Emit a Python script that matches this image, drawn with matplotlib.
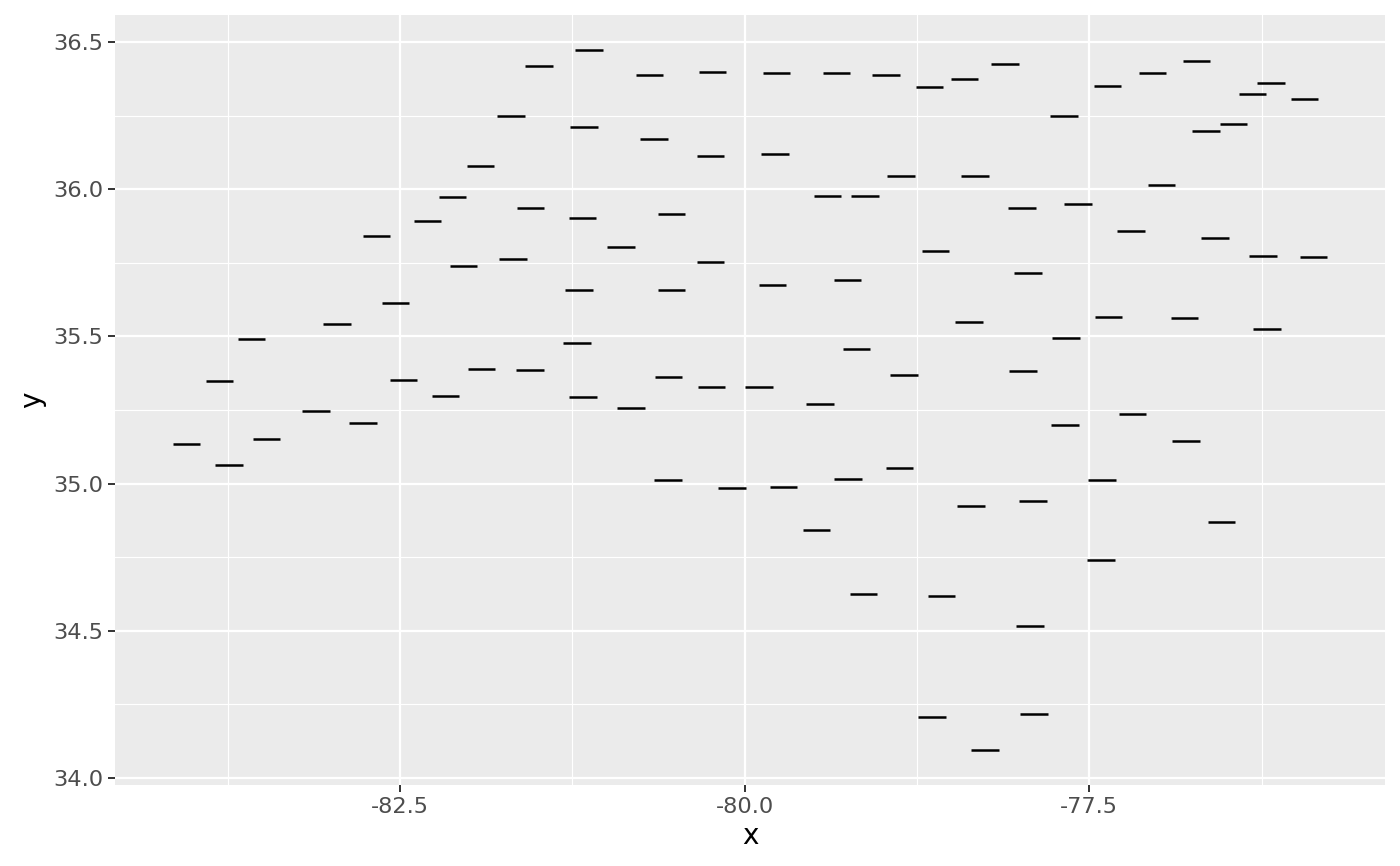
import matplotlib
matplotlib.use("Agg")
import matplotlib.pyplot as plt
import numpy as np
from matplotlib.ticker import MultipleLocator

x = [-84.05, -83.81, -83.74, -83.58, -83.47, -83.11, -82.96, -82.77, -82.67, -82.535,
     -82.475, -82.30, -82.17, -82.12, -82.04, -81.917, -81.909, -81.697, -81.683, -81.559,
     -81.554, -81.494, -81.216, -81.204, -81.178, -81.175, -81.165, -81.129, -80.897, -80.825,
     -80.690, -80.656, -80.557, -80.530, -80.530, -80.552, -80.233, -80.248, -80.248, -80.241,
     -80.091, -79.895, -79.799, -79.770, -79.779, -79.719, -79.455, -79.400, -79.480, -79.335,
     -79.255, -79.252, -79.190, -79.139, -79.129, -78.975, -78.878, -78.866, -78.844, -78.658,
     -78.639, -78.614, -78.571, -78.404, -78.371, -78.357, -78.330, -78.257, -78.112, -77.987,
     -77.980, -77.943, -77.907, -77.929, -77.902, -77.683, -77.668, -77.678, -77.581, -77.414,
     -77.407, -77.368, -77.361, -77.199, -77.187, -77.042, -76.975, -76.808, -76.799, -76.654,
     -76.721, -76.586, -76.540, -76.453, -76.315, -76.241, -76.212, -76.183, -75.938, -75.873]
y = [35.135, 35.347, 35.062, 35.491, 35.152, 35.245, 35.541, 35.205, 35.843, 35.615,
     35.351, 35.891, 35.297, 35.975, 35.740, 36.079, 35.390, 36.250, 35.765, 35.386,
     35.936, 36.421, 35.479, 35.657, 35.902, 35.293, 36.212, 36.474, 35.803, 35.256,
     36.388, 36.171, 35.013, 35.918, 35.658, 35.362, 36.400, 36.115, 35.754, 35.328,
     34.986, 35.328, 35.674, 36.397, 36.121, 34.988, 35.271, 35.976, 34.841, 36.396,
     35.692, 35.015, 35.456, 34.625, 35.976, 36.389, 35.053, 36.044, 35.369, 36.347,
     34.207, 35.792, 34.616, 36.376, 35.550, 34.925, 36.044, 34.094, 36.426, 35.937,
     35.382, 35.717, 34.942, 34.516, 34.215, 36.248, 35.494, 35.198, 35.951, 34.741,
     35.011, 36.352, 35.567, 35.858, 35.238, 36.397, 36.015, 35.563, 35.145, 36.198,
     36.435, 35.835, 34.868, 36.224, 36.326, 35.773, 35.526, 36.362, 36.307, 35.769]
x_ticks = [-82.5, -80.0, -77.5]
x_tick_labels = ["-82.5", "-80.0", "-77.5"]
y_ticks = [34.0, 34.5, 35.0, 35.5, 36.0, 36.5]
y_tick_labels = ["34.0", "34.5", "35.0", "35.5", "36.0", "36.5"]

half = 0.1
plt.rcParams['font.family'] = ['DejaVu Sans']
fig = plt.figure(figsize=(14, 8.66), dpi=100)
ax = fig.add_axes([115/1400, 1-785/866, 1270/1400, 770/866])
ax.set_facecolor("#EBEBEB")

xa = np.array(x); ya = np.array(y)
xmin, xmax = (xa - half).min(), (xa + half).max()
ymin, ymax = ya.min(), ya.max()
ex = 0.05 * (xmax - xmin); ey = 0.05 * (ymax - ymin)
ax.set_xlim(xmin - ex, xmax + ex)
ax.set_ylim(ymin - ey, ymax + ey)

ax.set_xticks(x_ticks)
ax.set_xticklabels(x_tick_labels)
ax.set_yticks(y_ticks)
ax.set_yticklabels(y_tick_labels)
ax.xaxis.set_minor_locator(MultipleLocator(1.25))
ax.yaxis.set_minor_locator(MultipleLocator(0.25))
ax.grid(which="major", color="white", linewidth=1.6)
ax.grid(which="minor", color="white", linewidth=0.8)
ax.set_axisbelow(True)
for s in ax.spines.values():
    s.set_visible(False)
ax.tick_params(which="major", length=5, width=1.4, color="#333333",
               labelsize=16.2, labelcolor="#4D4D4D", pad=3.5)
ax.tick_params(which="minor", length=0)

ax.hlines(ya, xa - half, xa + half, colors="black", linewidth=1.8)

ax.set_xlabel("x", fontsize=20, color="black", labelpad=4)
ax.set_ylabel("y", fontsize=20, color="black", labelpad=5)

fig.savefig("out.png", dpi=100, facecolor="white")
